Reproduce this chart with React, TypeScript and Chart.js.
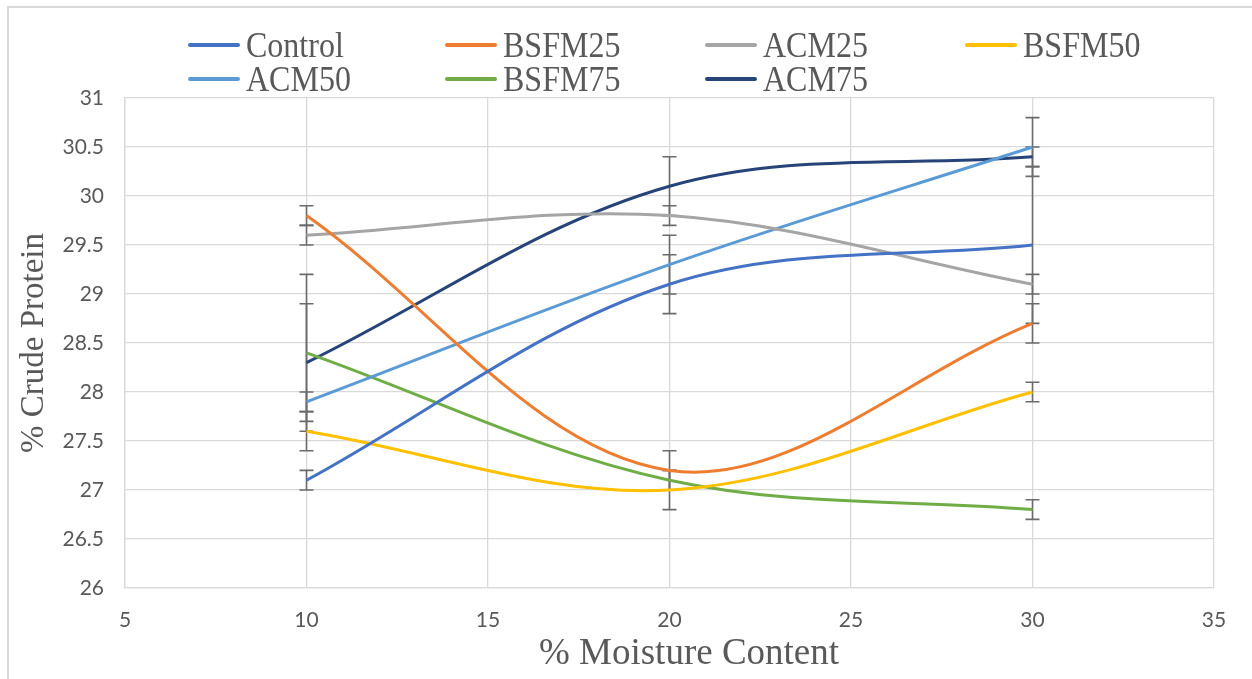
import React, { useEffect, useRef } from "react";
import { Chart, registerables } from "chart.js";

Chart.register(...registerables);

const moisture = [10, 20, 30];
const seriesNames = ["Control", "BSFM25", "ACM25", "BSFM50", "ACM50", "BSFM75", "ACM75"];
const seriesColors = ["#4472C4", "#ED7D31", "#A5A5A5", "#FFC000", "#5B9BD5", "#70AD47", "#264478"];

const control = [27.1, 29.1, 29.5];
const bsfm25 = [29.8, 27.2, 28.7];
const acm25 = [29.6, 29.8, 29.1];
const bsfm50 = [27.6, 27.0, 28.0];
const acm50 = [27.9, 29.3, 30.5];
const bsfm75 = [28.4, 27.1, 26.8];
const acm75 = [28.3, 30.1, 30.4];

const controlErr = [0.1, 0.3, 0.8];
const bsfm25Err = [0.1, 0.2, 0.2];
const acm25Err = [0.1, 0.1, 0.1];
const bsfm50Err = [0.2, 0.2, 0.1];
const acm50Err = [0.1, 0.3, 0.3];
const bsfm75Err = [0.8, 0.1, 0.1];
const acm75Err = [0.6, 0.3, 0.1];

const xTicks = [5, 10, 15, 20, 25, 30, 35];
const yTicks = [26, 26.5, 27, 27.5, 28, 28.5, 29, 29.5, 30, 30.5, 31];

const seriesValues = [control, bsfm25, acm25, bsfm50, acm50, bsfm75, acm75];
const seriesErrors = [controlErr, bsfm25Err, acm25Err, bsfm50Err, acm50Err, bsfm75Err, acm75Err];

const errorBarPlugin = {
  id: "errorBars",
  beforeDatasetsDraw(chart: any) {
    const ctx = chart.ctx;
    const xs = chart.scales.x;
    const ys = chart.scales.y;
    ctx.save();
    ctx.strokeStyle = "#6b6b6b";
    ctx.lineWidth = 1.6;
    chart.data.datasets.forEach((ds: any) => {
      const errs = ds.errors as number[];
      ds.data.forEach((pt: any, i: number) => {
        const e = errs[i];
        const px = xs.getPixelForValue(pt.x);
        const top = ys.getPixelForValue(pt.y + e);
        const bot = ys.getPixelForValue(pt.y - e);
        const cap = 7;
        ctx.beginPath();
        ctx.moveTo(px, top);
        ctx.lineTo(px, bot);
        ctx.moveTo(px - cap, top);
        ctx.lineTo(px + cap, top);
        ctx.moveTo(px - cap, bot);
        ctx.lineTo(px + cap, bot);
        ctx.stroke();
      });
    });
    ctx.restore();
  },
};

export default function App() {
  const canvasRef = useRef<HTMLCanvasElement | null>(null);

  useEffect(() => {
    if (!canvasRef.current) return;
    const datasets = seriesNames.map((name, si) => ({
      label: name,
      data: moisture.map((m, i) => ({ x: m, y: seriesValues[si][i] })),
      errors: seriesErrors[si],
      borderColor: seriesColors[si],
      backgroundColor: seriesColors[si],
      borderWidth: 3,
      pointRadius: 0,
      tension: 0.35,
      fill: false,
    }));
    const chart = new Chart(canvasRef.current, {
      type: "line",
      data: { datasets } as any,
      plugins: [errorBarPlugin],
      options: {
        animation: false,
        responsive: true,
        maintainAspectRatio: false,
        layout: { padding: { top: 98, right: 38, bottom: 0, left: 0 } },
        plugins: { legend: { display: false }, tooltip: { enabled: false } },
        scales: {
          x: {
            type: "linear",
            min: 5,
            max: 35,
            afterBuildTicks: (scale: any) => {
              scale.ticks = xTicks.map((v) => ({ value: v }));
            },
            afterFit: (scale: any) => {
              scale.height = 91;
            },
            grid: { color: "#d9d9d9", lineWidth: 1.3, drawTicks: false },
            border: { color: "#d9d9d9", width: 1.3 },
            ticks: {
              padding: 20,
              color: "#595959",
              font: { family: "Lato", size: 21 },
              callback: (v: any) => String(v),
            },
            title: { display: false },
          },
          y: {
            type: "linear",
            min: 26,
            max: 31,
            afterBuildTicks: (scale: any) => {
              scale.ticks = yTicks.map((v) => ({ value: v }));
            },
            afterFit: (scale: any) => {
              scale.width = 125;
            },
            grid: { color: "#d9d9d9", lineWidth: 1.3, drawTicks: false },
            border: { color: "#d9d9d9", width: 1.3 },
            ticks: {
              padding: 21,
              color: "#595959",
              font: { family: "Lato", size: 21 },
              callback: (v: any) => String(v),
            },
            title: {
              display: true,
              text: "% Crude Protein",
              color: "#595959",
              font: { family: "Liberation Serif", size: 33 },
              padding: { top: 15, bottom: 0 },
            },
          },
        },
      } as any,
    });
    return () => chart.destroy();
  }, []);

  const colLeft = [188, 445, 705, 965];
  const rowTop = [28, 62];

  return (
    <div style={{ position: "absolute", left: 0, top: 0, width: 1252, height: 679, background: "#fff", overflow: "hidden" }}>
      <div
        style={{
          position: "absolute",
          left: 7,
          top: 6,
          width: 1300,
          height: 720,
          borderLeft: "2px solid #d9d9d9",
          borderTop: "2px solid #d9d9d9",
        }}
      />
      <div style={{ position: "absolute", left: 0, top: 0, width: 1252, height: 679 }}>
        <canvas ref={canvasRef} />
      </div>
      <div
        style={{
          position: "absolute",
          left: 489,
          width: 400,
          top: 630,
          height: 44,
          textAlign: "center",
          fontFamily: "Liberation Serif",
          fontSize: 37,
          lineHeight: "44px",
          color: "#595959",
          whiteSpace: "nowrap",
        }}
      >
        % Moisture Content
      </div>
      {seriesNames.map((name, i) => {
        const row = i < 4 ? 0 : 1;
        const col = i < 4 ? i : i - 4;
        return (
          <div
            key={name}
            style={{
              position: "absolute",
              left: colLeft[col],
              top: rowTop[row],
              height: 34,
              display: "flex",
              alignItems: "center",
              whiteSpace: "nowrap",
            }}
          >
            <span
              style={{
                display: "inline-block",
                width: 52,
                height: 4,
                borderRadius: 2,
                background: seriesColors[i],
                marginRight: 6,
              }}
            />
            <span
              style={{
                fontFamily: "Liberation Serif",
                fontSize: 32,
                color: "#595959",
                lineHeight: "34px",
                display: "inline-block",
                transform: "scaleY(1.12)",
              }}
            >
              {name}
            </span>
          </div>
        );
      })}
    </div>
  );
}
